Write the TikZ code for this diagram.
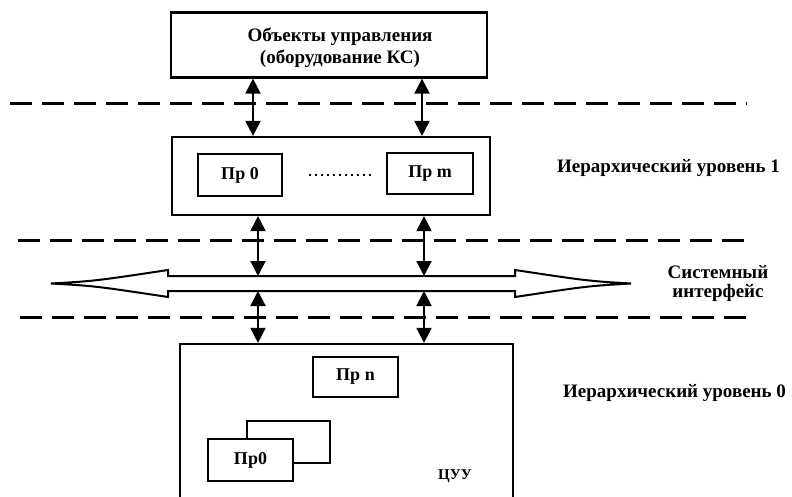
\documentclass[tikz,border=0pt]{standalone}
\usepackage{fontspec}
\setmainfont{Liberation Serif}
\usetikzlibrary{arrows.meta,calc}
\begin{document}
\begin{tikzpicture}[x=1pt,y=-1pt,
  box/.style={draw,line width=2.2pt,rectangle,inner sep=0pt,font=\bfseries\fontsize{18}{22}\selectfont},
  lbl/.style={font=\bfseries\fontsize{19}{22}\selectfont,align=center,inner sep=0pt},
  dline/.style={line width=3pt,dash pattern=on 22pt off 10pt},
  varrow/.style={line width=2pt,{Triangle[length=15pt,width=15pt]}-{Triangle[length=15pt,width=15pt]}},
  busline/.style={line width=2pt,line join=miter},
]
\clip (0,0) rectangle (792,497);
\fill[white] (0,0) rectangle (792,497);

% dashed level separators
\draw[dline] (10,104) -- (747,104);
\draw[dline] (18,240) -- (754,240);
\draw[dline] (20,317) -- (752,317);

% top box
\node[box,minimum width=316pt,minimum height=65pt] (obj) at (329,45) {};
\node[lbl] (objt) at (340,48) {Объекты управления\\(оборудование КС)};

% level 1 box
\node[box,minimum width=318pt,minimum height=78pt] (lvl1) at (331,176) {};
\node[box,minimum width=84pt,minimum height=42pt] (p0) at (240,175) {Пр 0};
\node[box,minimum width=86pt,minimum height=41pt] (pm) at (430,173.5) {Пр m};
\draw[line width=2pt,dash pattern=on 2pt off 4pt,shorten <=26pt,shorten >=12pt] (p0.east) -- (p0.east -| pm.west);

% system bus (hollow double arrow)
\draw[busline] (51,283.5) .. controls (95,281) .. (168,270) -- (168,276) -- (515,276) -- (515,270)
  .. controls (588,281) .. (631,283.5) .. controls (588,286) .. (515,297) -- (515,291) -- (168,291)
  -- (168,297) .. controls (95,286) .. (51,283.5) -- cycle;
\coordinate (busT) at (0,276);
\coordinate (busB) at (0,291);

% level 0 box
\node[box,minimum width=333pt,minimum height=170pt] (cuu) at (346.5,429) {};
\node[box,minimum width=85pt,minimum height=40pt] (pn) at (355.5,377) {Пр n};
\node[box,minimum width=83pt,minimum height=42pt] (p0b) at (288.5,442) {};
\node[box,fill=white,minimum width=85pt,minimum height=42pt] (p0c) at (250.5,460) {Пр0};
\node[lbl,font=\bfseries\fontsize{15}{17}\selectfont] (cuut) at (455,476) {ЦУУ};

% x positions of the links
\coordinate (xa) at (253,0);
\coordinate (xb) at (422,0);
\coordinate (xc) at (258,0);
\coordinate (xd) at (424,0);

\draw[varrow] (obj.south -| xa) -- (lvl1.north -| xa);
\draw[varrow] (obj.south -| xb) -- (lvl1.north -| xb);
\draw[varrow] (lvl1.south -| xc) -- (busT -| xc);
\draw[varrow] (lvl1.south -| xd) -- (busT -| xd);
\draw[varrow] (busB -| xc) -- (cuu.north -| xc);
\draw[varrow] (busB -| xd) -- (cuu.north -| xd);

% right-hand labels
\node[lbl,anchor=west] (h1) at (557,168) {Иерархический уровень 1};
\node[lbl] (si) at (718,283) {Системный\\[-3pt]интерфейс};
\node[lbl,anchor=west] (h0) at (563,393) {Иерархический уровень 0};
\end{tikzpicture}
\end{document}
